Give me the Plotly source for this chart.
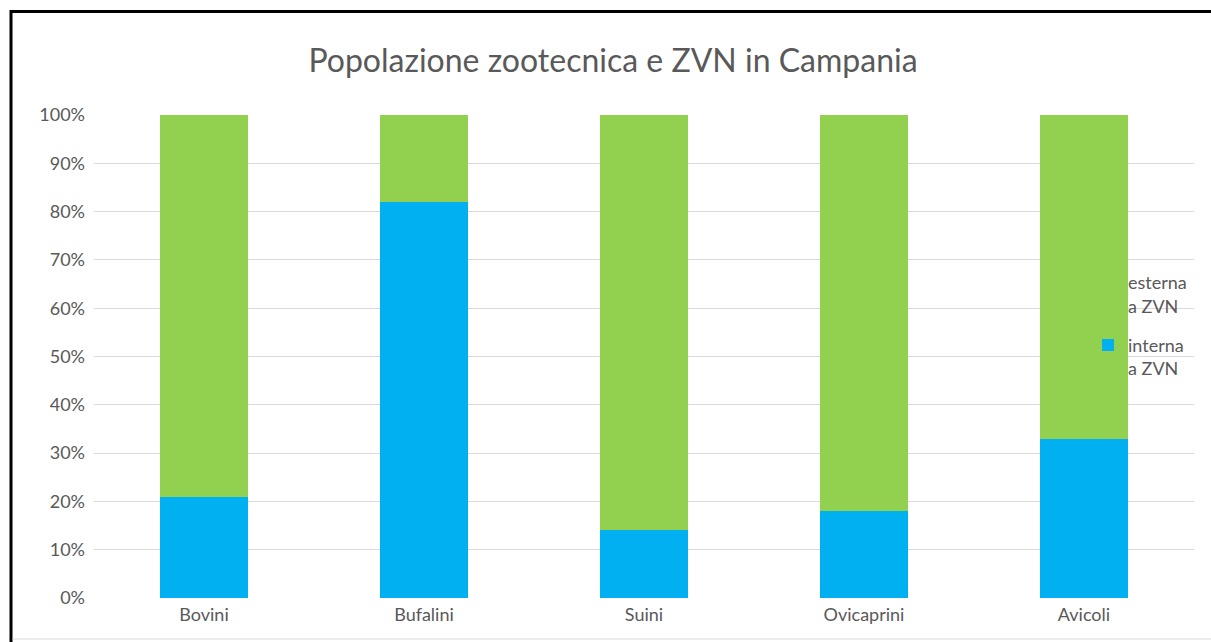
import plotly.graph_objects as go

categories = ["Bovini", "Bufalini", "Suini", "Ovicaprini", "Avicoli"]
interna = [21, 82, 14, 18, 33]
esterna = [79, 18, 86, 82, 67]
series_names = ["interna<br>a ZVN", "esterna<br>a ZVN"]
tick_vals = [0, 10, 20, 30, 40, 50, 60, 70, 80, 90, 100]
tick_text = [f"{v}%" for v in tick_vals]

W, H = 1211, 642
L, R, T, B = 94, 17, 115, 44
PW, PH = W - L - R, H - T - B

def px(x):
    return (x - L) / PW

def py(y):
    return (H - B - y) / PH

FONT = "Lato, Carlito, Calibri, sans-serif"
GRAY = "#595959"

fig = go.Figure()
fig.add_trace(go.Bar(x=categories, y=interna, name=series_names[0], legendgroup="interna",
                     legendrank=2,
                     marker=dict(color="#00B0F0", line=dict(width=0)), width=0.4))
fig.add_trace(go.Bar(x=categories, y=esterna, name=series_names[1], legendgroup="esterna",
                     legendrank=1,
                     marker=dict(color="#92D050", line=dict(width=0)), width=0.4))

fig.update_layout(
    width=W, height=H,
    barmode="stack",
    paper_bgcolor="white", plot_bgcolor="white",
    margin=dict(l=L, r=R, t=T, b=B, autoexpand=False),
    font=dict(family=FONT, color=GRAY, size=18),
    title=dict(text="Popolazione zootecnica e ZVN in Campania",
               x=613 / W, xanchor="center", xref="container",
               y=1 - 61 / H, yanchor="middle", yref="container",
               font=dict(family=FONT, size=32, color=GRAY)),
    xaxis=dict(showgrid=False, showline=False, ticks="", zeroline=False,
               tickfont=dict(size=18, color=GRAY), range=[-0.5, 4.5],
               ticklabelstandoff=4),
    yaxis=dict(range=[0, 100], tickvals=tick_vals, ticktext=tick_text,
               showgrid=True, gridcolor="#d9d9d9", gridwidth=1,
               zeroline=False, showline=False, ticks="",
               tickfont=dict(size=18, color=GRAY), ticklabelstandoff=8),
    legend=dict(x=px(1088), xanchor="left", y=py(264), yanchor="top",
                traceorder="grouped", bgcolor="rgba(0,0,0,0)",
                font=dict(family=FONT, size=18, color=GRAY),
                valign="top", itemwidth=30, tracegroupgap=13),
    showlegend=True,
    shapes=[
        dict(type="line", xref="paper", yref="paper",
             x0=px(11), x1=px(11), y0=py(10), y1=py(660),
             line=dict(color="black", width=3)),
        dict(type="line", xref="paper", yref="paper",
             x0=px(10), x1=px(1230), y0=py(11.5), y1=py(11.5),
             line=dict(color="black", width=3)),
        dict(type="line", xref="paper", yref="paper",
             x0=px(12.5), x1=px(1230), y0=py(639), y1=py(639),
             line=dict(color="#d9d9d9", width=1)),
    ],
)

fig.write_html("out.html", config={"displayModeBar": False},
               post_script="document.body.style.margin='0';document.body.style.overflow='hidden';")
